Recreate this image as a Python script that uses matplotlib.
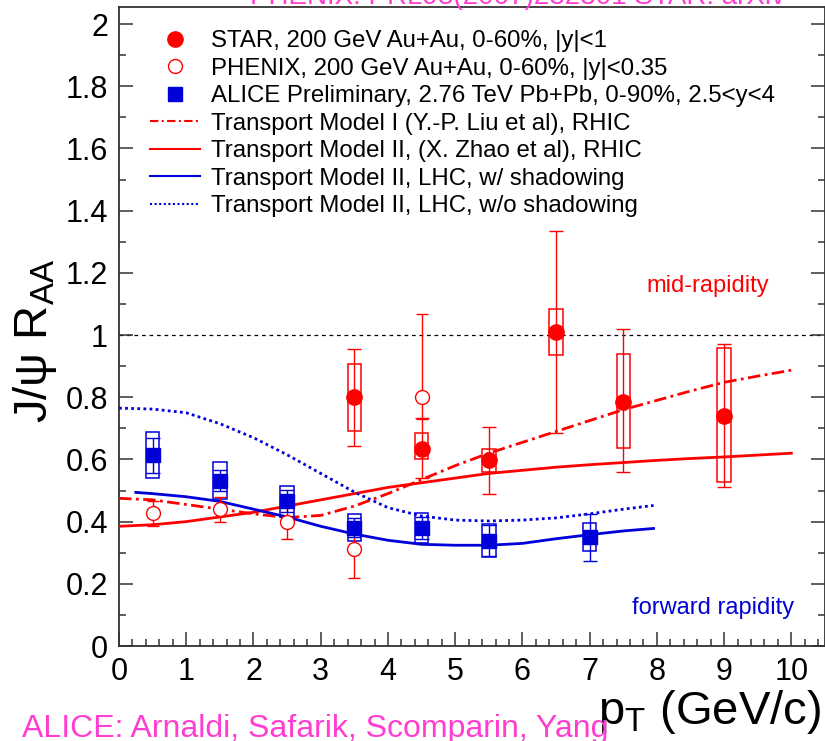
import matplotlib
matplotlib.use("Agg")
import matplotlib.pyplot as plt
from matplotlib.patches import Rectangle
from matplotlib.lines import Line2D
from matplotlib.ticker import MultipleLocator, FormatStrFormatter
import numpy as np

plt.rcParams['font.family'] = ['Liberation Sans', 'DejaVu Sans']
plt.rcParams['mathtext.fontset'] = 'custom'
plt.rcParams['mathtext.rm'] = 'Liberation Sans'
plt.rcParams['mathtext.it'] = 'Liberation Sans'

# ---------------- data ----------------
star_x = [3.5, 4.5, 5.5, 6.5, 7.5, 9.0]
star_y = [0.80, 0.633, 0.598, 1.01, 0.785, 0.74]
star_err_hi = [0.155, 0.10, 0.106, 0.324, 0.234, 0.231]
star_err_lo = [0.157, 0.093, 0.109, 0.325, 0.225, 0.229]
star_sys_hi = [0.107, 0.052, 0.035, 0.074, 0.154, 0.218]
star_sys_lo = [0.109, 0.032, 0.038, 0.074, 0.148, 0.213]

phenix_x = [0.5, 1.5, 2.5, 3.5, 4.5]
phenix_y = [0.428, 0.44, 0.399, 0.312, 0.80]
phenix_err_hi = [0.039, 0.039, 0.051, 0.087, 0.268]
phenix_err_lo = [0.042, 0.041, 0.055, 0.093, 0.07]

alice_x = [0.5, 1.5, 2.5, 3.5, 4.5, 5.5, 7.0]
alice_y = [0.613, 0.532, 0.466, 0.381, 0.379, 0.338, 0.35]
alice_stat = [0.056, 0.035, 0.035, 0.03, 0.036, 0.05, 0.076]
alice_sys = [0.074, 0.06, 0.05, 0.043, 0.048, 0.053, 0.044]

m1_x = [0, 0.5, 1, 1.5, 2, 2.5, 3, 3.5, 4, 4.5, 5, 5.5, 6, 6.5, 7, 7.5, 8, 8.5, 9, 9.5, 10]
m1_y = [0.475, 0.47, 0.455, 0.44, 0.425, 0.413, 0.42, 0.45, 0.49, 0.535, 0.58, 0.62,
        0.655, 0.69, 0.725, 0.76, 0.79, 0.82, 0.848, 0.868, 0.887]

m2_x = [0, 0.5, 1, 1.5, 2, 2.5, 3, 3.5, 4, 4.5, 5, 5.5, 6, 6.5, 7, 7.5, 8, 8.5, 9, 9.5, 10]
m2_y = [0.385, 0.39, 0.40, 0.415, 0.43, 0.45, 0.47, 0.49, 0.51, 0.525, 0.54, 0.555,
        0.565, 0.575, 0.583, 0.59, 0.597, 0.603, 0.608, 0.614, 0.62]

lhc_sh_x = [0.25, 0.5, 1, 1.5, 2, 2.5, 3, 3.5, 4, 4.5, 5, 5.5, 6, 6.5, 7, 7.5, 7.95]
lhc_sh_y = [0.494, 0.49, 0.48, 0.465, 0.44, 0.415, 0.385, 0.36, 0.34, 0.327, 0.324,
            0.324, 0.33, 0.345, 0.358, 0.37, 0.378]

lhc_nosh_x = [0, 0.5, 1, 1.5, 2, 2.5, 3, 3.5, 4, 4.5, 5, 5.5, 6, 6.5, 7, 7.5, 7.95]
lhc_nosh_y = [0.765, 0.762, 0.75, 0.715, 0.67, 0.615, 0.555, 0.495, 0.445, 0.418,
              0.405, 0.402, 0.405, 0.412, 0.425, 0.44, 0.452]

REF = 1.0
labels = ["STAR, 200 GeV Au+Au, 0-60%, |y|<1",
          "PHENIX, 200 GeV Au+Au, 0-60%, |y|<0.35",
          "ALICE Preliminary, 2.76 TeV Pb+Pb, 0-90%, 2.5<y<4",
          "Transport Model I (Y.-P. Liu et al), RHIC",
          "Transport Model II, (X. Zhao et al), RHIC",
          "Transport Model II, LHC, w/ shadowing",
          "Transport Model II, LHC, w/o shadowing"]

RED = '#ff0000'
BLUE = '#0000d8'
MAG = '#ff3dd2'
BOXW = 0.1

fig = plt.figure(figsize=(8.25, 7.41), dpi=100)
ax = fig.add_axes([119/825, 95/741, 1 - 119/825, (646-7)/741])
ax.set_xlim(0, 10.5)
ax.set_ylim(0, 2.055)

# models
ax.plot(m1_x, m1_y, color=RED, lw=2, linestyle=(0, (4.5, 1.6, 1, 1.6)), zorder=3)
ax.plot(m2_x, m2_y, color=RED, lw=2, zorder=3)
ax.plot(lhc_sh_x, lhc_sh_y, color=BLUE, lw=2, zorder=3)
ax.plot(lhc_nosh_x, lhc_nosh_y, color=BLUE, lw=2, linestyle=(0, (1, 1.2)), zorder=3)

# reference line
ax.axhline(REF, color='black', lw=0.9, linestyle=(0, (3, 3)), zorder=1)

# STAR
for x, y, sh, sl in zip(star_x, star_y, star_sys_hi, star_sys_lo):
    ax.add_patch(Rectangle((x - BOXW, y - sl), 2 * BOXW, sh + sl, fill=False,
                           edgecolor=RED, lw=1.1, zorder=4))
ax.errorbar(star_x, star_y, yerr=[star_err_lo, star_err_hi], fmt='o', color=RED,
            ms=11, elinewidth=1, capsize=4.8, capthick=1, zorder=5)

# PHENIX
ax.errorbar(phenix_x, phenix_y, yerr=[phenix_err_lo, phenix_err_hi], fmt='o',
            color=RED, mfc='white', mec=RED, mew=1, ms=10, elinewidth=1,
            capsize=4.0, capthick=1, zorder=5)

# ALICE
for x, y, s in zip(alice_x, alice_y, alice_sys):
    ax.add_patch(Rectangle((x - BOXW, y - s), 2 * BOXW, 2 * s, fill=False,
                           edgecolor=BLUE, lw=1.1, zorder=4))
ax.errorbar(alice_x, alice_y, yerr=alice_stat, fmt='s', color=BLUE, ms=10,
            elinewidth=1, capsize=4.8, capthick=1, zorder=5)

# annotations
ax.text(7.85, 1.138, "mid-rapidity", color=RED, fontsize=17)
ax.text(7.63, 0.103, "forward rapidity", color=BLUE, fontsize=17)

# axes styling
ax.xaxis.set_major_locator(MultipleLocator(1))
ax.xaxis.set_minor_locator(MultipleLocator(0.2))
ax.yaxis.set_major_locator(MultipleLocator(0.2))
ax.yaxis.set_minor_locator(MultipleLocator(0.1))
ax.yaxis.set_major_formatter(FormatStrFormatter('%g'))
ax.xaxis.set_major_formatter(FormatStrFormatter('%g'))
ax.tick_params(which='both', direction='in', top=False, right=True,
               color='#333333', width=1.1)
ax.tick_params(which='major', length=10, labelsize=22, pad=8)
ax.tick_params(which='minor', length=5)
for s in ax.spines.values():
    s.set_color('#333333')
    s.set_linewidth(1.3)

# legend
handles = [
    Line2D([], [], marker='o', color=RED, ls='none', ms=11),
    Line2D([], [], marker='o', color=RED, mfc='white', ls='none', ms=10, mew=1),
    Line2D([], [], marker='s', color=BLUE, ls='none', ms=10),
    Line2D([], [], color=RED, lw=1.5, linestyle=(0, (4, 1.6, 1, 1.6))),
    Line2D([], [], color=RED, lw=1.5),
    Line2D([], [], color=BLUE, lw=1.5),
    Line2D([], [], color=BLUE, lw=1.5, linestyle=(0, (1, 1.2))),
]
fig.legend(handles, labels, loc='upper left', bbox_to_anchor=(150/825, 1 - 30/741),
           frameon=False, fontsize=17.3, handlelength=2.1, handletextpad=0.45,
           labelspacing=0.23, borderpad=0, borderaxespad=0)

# axis labels
fig.text(598/825, 17/741, r"p$_{\rm T}$ (GeV/c)", fontsize=34, ha='left', va='baseline')
fig.text(35/825, 0.54, r"J/ψ R$_{\rm AA}$", fontsize=34, rotation=90, ha='center', va='center')

# magenta credits (partly cut off like the source)
fig.text(22/825, 4/741, "ALICE: Arnaldi, Safarik, Scomparin, Yang", color=MAG,
         fontsize=23, ha='left', va='baseline')
fig.text(250/825, 1 - 4/741, "PHENIX: PRL98(2007)232301 STAR: arXiv", color=MAG,
         fontsize=20, ha='left', va='baseline')

fig.savefig("out.png", dpi=100)
